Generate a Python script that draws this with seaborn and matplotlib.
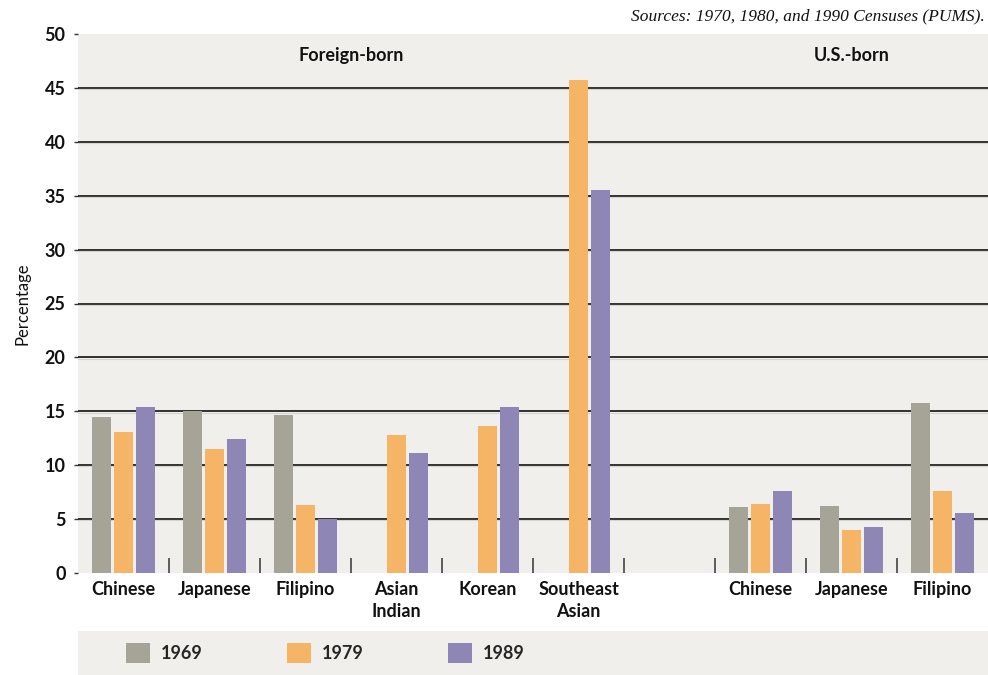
import numpy as np
import pandas as pd
import matplotlib
matplotlib.use("Agg")
import matplotlib.pyplot as plt
import seaborn as sns

# slot keys (one empty slot separates the two panels)
slots = ["fb_chinese", "fb_japanese", "fb_filipino", "fb_asian_indian", "fb_korean",
         "fb_se_asian", "gap", "us_chinese", "us_japanese", "us_filipino"]
slot_labels = ["Chinese", "Japanese", "Filipino", "Asian\nIndian", "Korean",
               "Southeast\nAsian", "", "Chinese", "Japanese", "Filipino"]
years = ["1969", "1979", "1989"]

pct_1969 = [14.5, 15.0, 14.7, np.nan, np.nan, np.nan, np.nan, 6.1, 6.2, 15.8]
pct_1979 = [13.1, 11.5, 6.3, 12.8, 13.6, 45.7, np.nan, 6.4, 4.0, 7.6]
pct_1989 = [15.4, 12.4, 5.0, 11.1, 15.4, 35.5, np.nan, 7.6, 4.3, 5.6]

colors = ["#a5a497", "#f5b466", "#8e87b6"]
bg = "#f0efeb"

rows = []
for yr, vals in zip(years, [pct_1969, pct_1979, pct_1989]):
    for s, v in zip(slots, vals):
        rows.append({"slot": s, "year": yr, "pct": v})
df = pd.DataFrame(rows).dropna()

sns.set_style("white")
plt.rcParams["font.family"] = ["Lato", "DejaVu Sans"]

fig = plt.figure(figsize=(9.88, 6.75), dpi=100)
ax = fig.add_axes([78 / 988, 102 / 675, 910 / 988, 539 / 675])
ax.set_facecolor(bg)

sns.barplot(data=df, x="slot", y="pct", hue="year", order=slots, hue_order=years,
            palette=colors, width=0.72, gap=0.1, saturation=1, linewidth=0,
            ax=ax, zorder=3)

ax.set_xlim(-0.5, len(slots) - 0.5)
ax.set_ylim(0, 50)
ax.set_yticks(range(0, 51, 5))
for yv in range(5, 50, 5):
    ax.axhline(yv, color="#111111", lw=1.2, zorder=1)
    ax.axhline(yv - 0.12, color="#d5d4d0", lw=0.8, zorder=1)

ax.set_xticks(range(len(slots)))
ax.set_xticklabels(slot_labels, fontsize=13, fontweight="bold", color="#111111",
                   linespacing=1.35)
ax.set_xticks(np.arange(0.5, len(slots) - 1, 1), minor=True)
ax.tick_params(axis="x", which="major", bottom=False, length=0, pad=6)
ax.tick_params(axis="x", which="minor", bottom=True, direction="in", length=11,
               width=1.2, color="#444444")
ax.tick_params(axis="y", which="major", left=True, length=3, width=1, color="#333333",
               labelsize=13, pad=6)
for lab in ax.get_yticklabels():
    lab.set_fontweight("bold")
    lab.set_color("#111111")

ax.set_xlabel("")
ax.set_ylabel("Percentage", fontsize=12, color="#111111", labelpad=10)
for sp in ax.spines.values():
    sp.set_visible(False)

ax.text(2.5, 48, "Foreign-born", ha="center", va="center", fontsize=13,
        fontweight="bold", color="#111111")
ax.text(8.0, 48, "U.S.-born", ha="center", va="center", fontsize=13,
        fontweight="bold", color="#111111")

fig.text(985 / 988, 1 - 16 / 675, "Sources: 1970, 1980, and 1990 Censuses (PUMS).",
         ha="right", va="center", fontsize=12.5, style="italic",
         family=["Liberation Serif", "DejaVu Serif"], color="#111111")

handles, labels = ax.get_legend_handles_labels()
ax.get_legend().remove()

lax = fig.add_axes([78 / 988, 0, 910 / 988, 44 / 675])
lax.set_facecolor(bg)
lax.set_xticks([])
lax.set_yticks([])
for sp in lax.spines.values():
    sp.set_visible(False)
leg = lax.legend(handles, labels, ncol=3, loc="center left", bbox_to_anchor=(0.035, 0.5),
                 frameon=False, handlelength=1.35, handleheight=1.35, handletextpad=0.6,
                 columnspacing=4.65, prop={"family": ["Lato", "DejaVu Sans"], "size": 13,
                                           "weight": "bold"})

fig.savefig("out.png", dpi=100, facecolor="white")
